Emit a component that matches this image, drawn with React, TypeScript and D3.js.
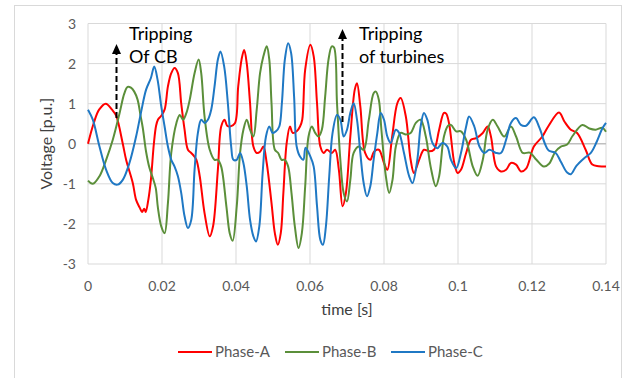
import { scaleLinear, line, curveCatmullRom } from "d3";

// time in ms, voltage in p.u.
const phaseATime = [0, 1.5, 3, 4.8, 6.5, 7.6, 9.4, 10.3, 12.1, 13, 14, 14.6, 15.2, 15.6, 16.3, 17, 17.8, 18.4, 18.9, 19.8, 20.7, 21.6, 22.5, 23.4, 24.3, 25.2, 26.1, 27, 27.9, 28.6, 29.3, 30.2, 31.5, 32.9, 33.8, 35.1, 36, 36.9, 37.6, 38.4, 39.7, 40.6, 41.5, 42.2, 42.9, 43.8, 44.7, 45.6, 46.5, 47.4, 48.3, 49.6, 50.5, 51.3, 52.1, 52.8, 53.7, 54.6, 55.3, 56.4, 57.3, 57.9, 58.7, 60.1, 61, 61.9, 62.8, 63.7, 64.6, 65.9, 66.8, 67.8, 68.8, 69.7, 70.9, 72.1, 72.7, 73.6, 74.9, 76.3, 77.3, 78.6, 80, 80.9, 82.2, 83.6, 84.5, 85.9, 87.2, 88.1, 89.5, 90.8, 92.2, 93.5, 94.9, 96.2, 96.8, 97.6, 99, 99.9, 100.8, 102.2, 103.5, 104.9, 106.7, 108, 108.9, 110.3, 111.6, 113, 114.3, 115.7, 117, 118.4, 120.5, 122.8, 124.5, 127.3, 128.8, 130.5, 132.2, 134.5, 136.3, 138, 140];
const phaseAVolt = [0, 0.5, 0.85, 1.0, 0.85, 0.7, 0, -0.4, -0.98, -1.4, -1.6, -1.7, -1.62, -1.7, -1.4, -0.9, 0, 0.45, 0.6, 0.7, 0.85, 1.43, 1.76, 1.89, 1.76, 1.0, 0.35, -0.15, -0.23, -0.3, -0.4, -0.81, -1.73, -2.31, -2.06, -0.65, 0.43, 0.6, 0.45, 0.43, 0.51, 1.43, 2.1, 2.34, 2.01, 1.01, -0.07, -0.23, -0.2, -0.07, -0.48, -1.48, -2.23, -2.52, -2.23, -1.23, 0.02, 0.43, 0.27, 0.31, 0.43, 0.6, 1.85, 2.47, 2.18, 1.01, -0.07, -0.23, -0.15, -0.23, -0.15, -0.65, -1.56, -1.23, 0.18, 1.35, 1.51, 0.93, -0.23, -0.4, -0.2, -0.15, -0.48, -0.65, 0.18, 1.01, 1.14, 0.68, -0.4, -0.73, -0.4, -0.15, -0.19, -0.15, 0.35, 0.77, 0.75, 0.5, -0.48, -0.73, -0.65, -0.23, 0.1, 0.14, 0.27, 0.43, 0.18, -0.57, -0.69, -0.65, -0.48, -0.52, -0.69, -0.62, -0.07, 0.18, 0.45, 0.78, 0.55, 0.35, 0.27, -0.15, -0.52, -0.56, -0.57];

const phaseBTime = [0, 1.3, 3.1, 4.9, 6.7, 8.5, 9.8, 10.7, 11.6, 12.5, 13.4, 14.2, 14.8, 15.7, 16.6, 17.5, 18.3, 18.9, 19.8, 20.7, 21.6, 22.5, 23.9, 24.8, 25.7, 26.6, 27.5, 28.8, 29.9, 30.6, 31.5, 32.9, 34.2, 35.1, 36, 37.4, 38.3, 39.1, 40.2, 41.1, 42, 42.9, 43.8, 44.7, 45.6, 46.5, 47.4, 48.3, 49, 49.6, 50.5, 51.4, 52.3, 53.2, 54.1, 55, 55.9, 56.9, 57.8, 58.7, 59.6, 60.5, 61.4, 62.3, 63.2, 64.1, 65, 65.9, 66.5, 67.3, 68.2, 69.1, 70, 70.9, 71.8, 73.2, 74.5, 75.9, 77.2, 77.8, 78.6, 79.3, 80.5, 81.4, 82.3, 83.2, 84.5, 85.9, 87.2, 88.6, 89.9, 91.3, 92.6, 94, 94.9, 96.2, 97.3, 98.1, 99.5, 100.8, 102.2, 104, 105.3, 106.7, 108, 109.4, 110.7, 112.5, 114.3, 115.7, 117.5, 119.4, 121.2, 123.2, 124.6, 126.3, 127.8, 129.5, 131, 133.6, 135.5, 137.2, 139, 140];
const phaseBVolt = [-0.92, -1.0, -0.81, -0.4, 0.1, 0.75, 1.25, 1.42, 1.4, 1.3, 1.1, 0.7, 0.4, -0.2, -0.6, -0.85, -1.1, -1.6, -2.06, -2.23, -1.48, -0.23, 0.52, 0.72, 0.6, 0.77, 1.1, 1.76, 2.1, 1.76, 0.68, -0.15, -0.4, -0.4, -0.57, -1.56, -2.23, -2.42, -1.56, -0.23, 0.35, 0.6, 0.35, 0.18, 0.85, 1.76, 2.18, 2.43, 2.1, 1.01, -0.15, -0.23, -0.4, -0.4, -0.57, -1.23, -2.06, -2.6, -2.23, -1.06, 0.18, 0.43, 0.27, 0.18, 0.35, 1.18, 2.1, 2.43, 2.4, 1.01, -0.4, -1.23, -1.44, -0.9, -0.23, -0.07, -0.15, 0.6, 1.26, 1.3, 1.1, 0.35, -0.81, -1.23, -0.9, -0.07, 0.27, 0.23, 0.27, 0.52, 0.6, 0.18, -0.57, -1.06, -0.81, 0.18, 0.45, 0.47, 0.31, 0.31, 0.1, -0.57, -0.8, -0.4, 0.35, 0.6, 0.43, 0.18, 0.43, 0.18, -0.23, -0.22, -0.4, -0.57, -0.5, -0.2, -0.07, -0.02, 0.2, 0.47, 0.38, 0.35, 0.4, 0.3];

const phaseCTime = [0, 1.3, 3.1, 4.9, 6.7, 8, 9.4, 11.2, 13, 14.3, 15.7, 17, 17.9, 18.8, 19.8, 20.7, 21.6, 22.5, 23.4, 24.3, 25.2, 26.1, 27, 27.9, 28.8, 29.7, 30.6, 31.5, 32.4, 33.3, 34.2, 35.1, 35.8, 36.8, 37.8, 38.7, 39.3, 40.2, 41.1, 42, 42.9, 43.8, 44.7, 45.4, 46.3, 47.2, 48.1, 49, 49.9, 50.8, 51.7, 52.4, 53.2, 54.1, 54.9, 55.7, 56.4, 57.3, 58.2, 58.8, 60.1, 61, 61.9, 62.8, 63.5, 64.3, 65.2, 66.1, 67.3, 68.2, 69.1, 70, 70.9, 71.8, 72.7, 73.6, 74.5, 75.4, 76.3, 77.2, 78.2, 79.1, 80, 80.9, 81.8, 83.2, 84.1, 85.4, 86.8, 87.7, 89, 89.9, 90.8, 91.7, 93.1, 94.4, 95.8, 97.1, 98.1, 99.5, 100.8, 102.2, 103, 104.4, 105.8, 107.1, 108.5, 110.3, 111.6, 113, 114.3, 115.7, 117, 118.4, 120.5, 122, 123.5, 124.5, 126.4, 127.8, 129.5, 130.5, 132, 134.1, 135.9, 137.5, 139, 140];
const phaseCVolt = [0.85, 0.6, -0.07, -0.65, -0.98, -1.02, -0.9, -0.48, 0.18, 0.77, 1.35, 1.64, 1.93, 1.6, 0.93, 0.43, -0.07, -0.4, -0.57, -0.81, -1.23, -1.81, -2.1, -1.9, -0.65, 0.27, 0.6, 0.52, 0.6, 0.85, 1.43, 2.1, 2.3, 1.93, 1.01, -0.07, -0.4, -0.4, -0.23, -0.48, -1.06, -1.9, -2.31, -2.44, -2.06, -0.73, 0.18, 0.43, 0.27, 0.31, 0.43, 1.01, 2.1, 2.51, 2.26, 1.18, -0.07, -0.32, -0.4, -0.1, -0.32, -0.57, -1.56, -2.4, -2.52, -2.06, -0.81, 0.27, 0.72, 0.6, 0.18, 0.35, 0.77, 1.01, 0.6, -0.23, -0.98, -1.31, -1.06, -0.4, 0.27, 0.77, 0.6, 0.18, 0.02, 0.35, 0.27, -0.23, -0.81, -0.98, -0.4, 0.43, 0.77, 0.6, 0.02, -0.11, 0.02, -0.07, -0.4, -0.61, -0.23, 0.43, 0.68, 0.43, -0.07, -0.23, -0.15, -0.23, -0.23, 0.1, 0.52, 0.64, 0.47, 0.45, 0.66, 0.4, 0.0, -0.17, -0.23, -0.45, -0.72, -0.76, -0.55, -0.36, -0.23, 0.05, 0.38, 0.52];

const xTicks = [0, 0.02, 0.04, 0.06, 0.08, 0.1, 0.12, 0.14];
const yTicks = [-3, -2, -1, 0, 1, 2, 3];

const seriesNames = ["Phase-A", "Phase-B", "Phase-C"];
const seriesColors = ["#ff0000", "#5b8f3a", "#1f78c4"];

const W = 636;
const H = 378;
const font = "Lato, 'Open Sans', sans-serif";

export default function App() {
  const x = scaleLinear().domain([0, 0.14]).range([88, 606]);
  const y = scaleLinear().domain([-3, 3]).range([264, 23.5]);

  const series = [
    phaseATime.map((t, i) => [t / 1000, phaseAVolt[i]]),
    phaseBTime.map((t, i) => [t / 1000, phaseBVolt[i]]),
    phaseCTime.map((t, i) => [t / 1000, phaseCVolt[i]]),
  ];

  const path = line<number[]>()
    .x((d) => x(d[0]))
    .y((d) => y(d[1]))
    .curve(curveCatmullRom.alpha(0.5));

  const legendX = [178, 285, 391];

  return (
    <svg
      width={W}
      height={H}
      style={{ position: "absolute", left: 0, top: 0, background: "#fff" }}
      fontFamily={font}
    >
      <rect x={14.5} y={5.5} width={607} height={400} fill="#fff" stroke="#d9d9d9" />

      {/* grid */}
      {xTicks.map((t) => (
        <line key={"gx" + t} x1={x(t)} x2={x(t)} y1={y(3)} y2={y(-3)} stroke="#d9d9d9" strokeWidth={1} />
      ))}
      {yTicks.map((v) => (
        <line key={"gy" + v} x1={x(0)} x2={x(0.14)} y1={y(v)} y2={y(v)} stroke={v === 0 ? "#bfbfbf" : "#d9d9d9"} strokeWidth={v === 0 ? 1.5 : 1} />
      ))}

      {/* tick labels */}
      {yTicks.map((v) => (
        <text key={"ty" + v} x={76} y={y(v) + 5} textAnchor="end" fontSize={14} fill="#595959">
          {v}
        </text>
      ))}
      {xTicks.map((t) => (
        <text key={"tx" + t} x={x(t)} y={291} textAnchor="middle" fontSize={14} fill="#595959">
          {t}
        </text>
      ))}

      {/* series */}
      {series.map((s, i) => (
        <path key={seriesNames[i]} d={path(s) || ""} fill="none" stroke={seriesColors[i]} strokeWidth={2} strokeLinejoin="round" />
      ))}

      {/* annotations */}
      <line x1={116.5} x2={116.5} y1={118} y2={54} stroke="#000" strokeWidth={2} strokeDasharray="6,3" />
      <path d="M116.5,44 L112,54 L121,54 Z" fill="#000" />
      <text x={129} y={40} fontSize={18} fill="#000">Tripping</text>
      <text x={129} y={63} fontSize={18} fill="#000">Of CB</text>

      <line x1={342.5} x2={342.5} y1={122} y2={39} stroke="#000" strokeWidth={2} strokeDasharray="6,3" />
      <path d="M342.5,29 L338,39 L347,39 Z" fill="#000" />
      <text x={359} y={40} fontSize={18} fill="#000">Tripping</text>
      <text x={359} y={63} fontSize={18} fill="#000">of turbines</text>

      {/* axis titles */}
      <text x={347} y={315} textAnchor="middle" fontSize={16} fill="#404040">time [s]</text>
      <text transform={`translate(52,${y(0)}) rotate(-90)`} textAnchor="middle" fontSize={16} fill="#404040">
        Voltage [p.u.]
      </text>

      {/* legend */}
      {seriesNames.map((name, i) => (
        <g key={"lg" + name} transform={`translate(${legendX[i]},352)`}>
          <line x1={0} x2={34} y1={0} y2={0} stroke={seriesColors[i]} strokeWidth={2} />
          <text x={37} y={5} fontSize={15} fill="#595959">{name}</text>
        </g>
      ))}
    </svg>
  );
}
